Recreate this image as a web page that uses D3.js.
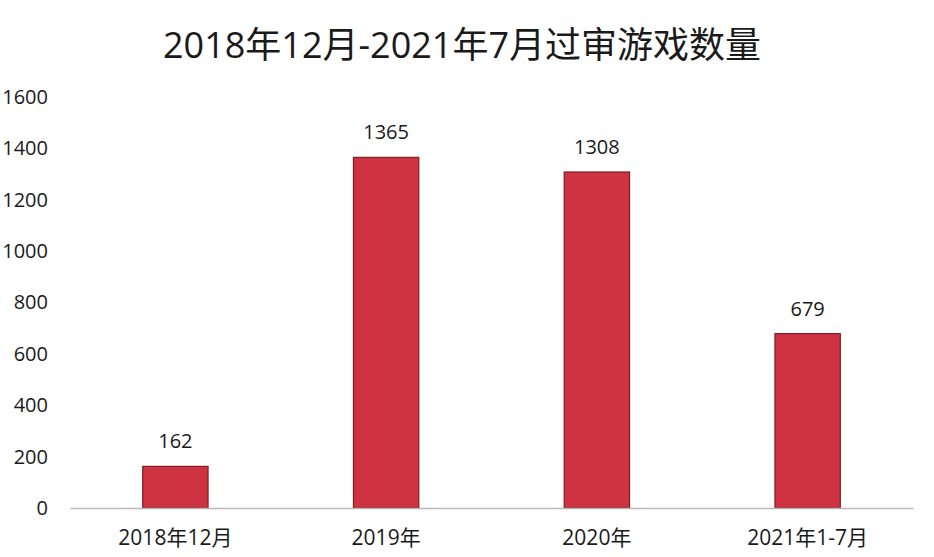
<!DOCTYPE html>
<html>
<head>
<meta charset="utf-8">
<script src="https://cdn.jsdelivr.net/npm/d3@7"></script>
<style>
  body { margin: 0; background: #fff; }
  text { font-family: "Open Sans", "Noto Sans CJK SC", sans-serif; }
</style>
</head>
<body>
<div id="chart"></div>
<script>
// data
var categories = ["2018年12月", "2019年", "2020年", "2021年1-7月"];
var counts = [162, 1365, 1308, 679];
var yTicks = [0, 200, 400, 600, 800, 1000, 1200, 1400, 1600];
var title = "2018年12月-2021年7月过审游戏数量";

var width = 934, height = 557;
var plot = {left: 70, right: 913, top: 97, bottom: 508};

var svg = d3.select("#chart")
  .append("svg")
    .attr("width", width)
    .attr("height", height);

var x = d3.scaleBand()
  .domain(categories)
  .range([plot.left, plot.right])
  .paddingInner(0.69)
  .paddingOuter(0.345);

var y = d3.scaleLinear()
  .domain([0, 1600])
  .range([plot.bottom, plot.top]);

// title
svg.append("text")
    .attr("x", 462)
    .attr("y", 58)
    .attr("text-anchor", "middle")
    .attr("font-size", "36px")
    .attr("fill", "#1a1a1a")
    .text(title);

// y axis labels (no line, no ticks)
var yAxis = svg.append("g")
    .attr("transform", "translate(48,0)")
    .call(d3.axisLeft(y).tickValues(yTicks).tickFormat(d3.format("d")).tickSize(0).tickPadding(0));
yAxis.select(".domain").remove();
yAxis.selectAll("text")
    .attr("font-size", "20px")
    .attr("fill", "#1a1a1a")
    .style("font-family", "'Open Sans', sans-serif");

// bars
svg.selectAll("rect.bar")
  .data(counts)
  .enter()
  .append("rect")
    .attr("class", "bar")
    .attr("x", (d, i) => x(categories[i]))
    .attr("y", d => y(d))
    .attr("width", x.bandwidth())
    .attr("height", d => y(0) - y(d))
    .attr("fill", "#cf3342")
    .attr("stroke", "#7a1f24")
    .attr("stroke-width", 1.2);

// baseline
var xAxis = svg.append("g")
    .attr("transform", "translate(0," + plot.bottom + ")")
    .call(d3.axisBottom(x).tickSize(0).tickPadding(22));
xAxis.select(".domain")
    .attr("stroke", "#b8b8b8")
    .attr("stroke-width", 1.3);
xAxis.selectAll("text")
    .attr("font-size", "21px")
    .attr("fill", "#1a1a1a")
    .style("font-family", "'Open Sans', 'Noto Sans CJK SC', sans-serif");

// value labels
svg.selectAll("text.val")
  .data(counts)
  .enter()
  .append("text")
    .attr("class", "val")
    .attr("x", (d, i) => x(categories[i]) + x.bandwidth() / 2)
    .attr("y", d => y(d) - 18)
    .attr("text-anchor", "middle")
    .attr("font-size", "20px")
    .attr("fill", "#1a1a1a")
    .text(d => d);
</script>
</body>
</html>
